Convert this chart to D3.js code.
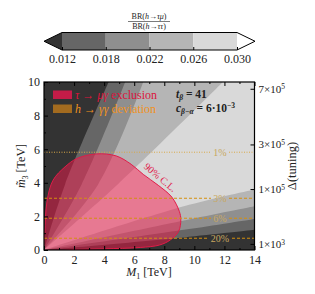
<!DOCTYPE html>
<html>
<head>
<script src="https://d3js.org/d3.v7.min.js"></script>
<style>
  body { margin: 0; background: #fff; }
  svg text { font-family: "Liberation Serif", "DejaVu Serif", serif; fill: #222; }
</style>
</head>
<body>
<svg width="315" height="294"></svg>
<script>
// BR(h->tau mu)/BR(h->tau tau) levels and colours (colorbar)
var levelTicks = ["0.012", "0.018", "0.022", "0.026", "0.030"];
var levelColors = ["#333333", "#666666", "#8f8f8f", "#b5b5b5", "#d9d9d9", "#ffffff"];

// contour edges, points are [M1, m3] in TeV
// upper edges (going up to the top border), one per level 0.012 .. 0.026
var upperEdges = [
  [[0, 0], [1.4, 3.9], [4.3, 10]],
  [[0, 0], [2.5, 3.9], [5.4, 10]],
  [[0, 0], [3.6, 3.9], [6.6, 10]],
  [[0, 0], [4.9, 3.9], [11.9, 10]]
];
// lower edges (going to the right border)
var lowerEdges = [
  [[0, 0], [9.3, 0.75], [14, 1.2]],
  [[0, 0], [9.3, 1.2], [14, 1.85]],
  [[0, 0], [9.3, 1.75], [14, 2.6]],
  [[0, 0], [9.3, 2.6], [14, 3.6]]
];

// tau -> mu gamma 90% CL exclusion contour
var tauMuGamma = [
  [0, 0], [0.05, 1], [0.2, 2.9], [0.6, 4.15], [1.4, 4.95], [2.2, 5.45],
  [3.5, 5.72], [4.8, 5.6], [5.8, 5.1], [6.6, 4.5], [7.6, 3.85], [8.5, 3.15],
  [9.0, 2.3], [9.1, 1.8], [8.95, 1.1], [8.4, 0.6], [7.7, 0.3], [6.4, 0.15],
  [4, 0.07], [2, 0.03]
];

// h -> gamma gamma deviation lines
var deviationLabels = ["1%", "3%", "6%", "20%"];
var deviationM3 = [5.82, 3.08, 1.89, 0.70];

// right axis: tuning
var tuningTicks = [1e3, 1e5, 3e5, 7e5];
var tuningMax = 7.6e5;

var svg = d3.select("svg");

var x = d3.scaleLinear().domain([0, 14]).range([44, 254.5]);
var y = d3.scaleLinear().domain([0, 10]).range([250, 82]);
var yR = d3.scaleSqrt().domain([0, tuningMax]).range([250, 82]);

svg.append("clipPath").attr("id", "plot")
  .append("rect").attr("x", 44).attr("y", 82).attr("width", 210.5).attr("height", 168);

var plot = svg.append("g").attr("clip-path", "url(#plot)");

// background level
plot.append("rect")
  .attr("x", 44).attr("y", 82).attr("width", 210.5).attr("height", 168)
  .attr("fill", levelColors[0]);

var edge = d3.line()
  .x(function(d) { return x(d[0]); })
  .y(function(d) { return y(d[1]); })
  .curve(d3.curveCatmullRom.alpha(0.5));

upperEdges.forEach(function(up, i) {
  var low = lowerEdges[i];
  var right = low[low.length - 1];
  var p = edge(up)
    + "L" + x(14) + "," + y(10)
    + "L" + x(right[0]) + "," + y(right[1])
    + edge(low.slice().reverse()).replace(/^M/, "L") + "Z";
  plot.append("path").attr("d", p).attr("fill", levelColors[i + 1]);
});

// exclusion region
plot.append("path")
  .attr("d", d3.line()
    .x(function(d) { return x(d[0]); })
    .y(function(d) { return y(d[1]); })
    .curve(d3.curveCatmullRomClosed.alpha(0.5))(tauMuGamma))
  .attr("fill", "rgb(245,25,75)")
  .attr("fill-opacity", 0.5)
  .attr("stroke", "#e01c48")
  .attr("stroke-width", 1);

// deviation lines with labels
var labelX = 220;
deviationM3.forEach(function(v, i) {
  var half = deviationLabels[i].length * 3 + 3;
  [[x(0), labelX - half], [labelX + half, x(14)]].forEach(function(seg) {
    plot.append("line")
      .attr("x1", seg[0]).attr("x2", seg[1])
      .attr("y1", y(v)).attr("y2", y(v))
      .attr("stroke", i === 0 ? "#d8a848" : "#d4900f")
      .attr("stroke-width", 1)
      .attr("stroke-dasharray", i === 0 ? "1,1.5" : "3,2");
  });
  plot.append("text")
    .attr("x", labelX).attr("y", y(v) + 3.5)
    .attr("text-anchor", "middle")
    .style("font-size", "10px")
    .style("fill", "#c8a860")
    .text(deviationLabels[i]);
});

// 90% CL label
svg.append("text")
  .attr("transform", "translate(158,180) rotate(40)")
  .attr("text-anchor", "middle")
  .style("font-size", "10px")
  .style("fill", "#e0204a")
  .text("90% C.L.");

// legend
var legend = [
  {label: [["τ", true], [" → ", false], ["μγ", true], [" exclusion", false]], sw: "#c41c48", col: "#dc143c"},
  {label: [["h", true], [" → ", false], ["γγ", true], [" deviation", false]], sw: "#a36b1f", col: "#f0921e"}
];
legend.forEach(function(l, i) {
  var yy = 90.5 + i * 14;
  svg.append("rect").attr("x", 53).attr("y", yy).attr("width", 19).attr("height", 8.5)
    .attr("fill", l.sw);
  var t = svg.append("text").attr("x", 75).attr("y", yy + 8)
    .style("font-size", "12px").style("fill", l.col);
  l.label.forEach(function(s) {
    t.append("tspan").style("font-style", s[1] ? "italic" : "normal").style("fill", l.col).text(s[0]);
  });
});

// parameter annotation
var a1 = svg.append("text").attr("x", 176).attr("y", 98)
  .style("font-size", "11.5px").style("font-weight", "bold");
a1.append("tspan").style("font-style", "italic").text("t");
a1.append("tspan").attr("dy", 2).style("font-size", "7.5px").style("font-style", "italic").text("β");
a1.append("tspan").attr("dy", -2).text(" = 41");

var a2 = svg.append("text").attr("x", 176).attr("y", 112)
  .style("font-size", "11.5px").style("font-weight", "bold");
a2.append("tspan").style("font-style", "italic").text("c");
a2.append("tspan").attr("dy", 2).style("font-size", "7.5px").style("font-style", "italic").text("β−α");
a2.append("tspan").attr("dy", -2).text(" = 6·10");
a2.append("tspan").attr("dy", -4).style("font-size", "7.5px").text("−3");

// axes
function styleAxis(g) {
  g.select(".domain").remove();
  g.selectAll(".tick line").attr("stroke", "#000");
  g.selectAll(".tick text").style("font-size", "12px").style("fill", "#222");
}

svg.append("g").attr("transform", "translate(0,250)")
  .call(d3.axisBottom(x).tickValues(d3.range(0, 15, 2)).tickSizeInner(-4).tickSizeOuter(0)
    .tickPadding(5).tickFormat(d3.format("d")))
  .call(styleAxis);
svg.append("g").attr("transform", "translate(0,250)")
  .call(d3.axisBottom(x).tickValues(d3.range(1, 14, 2)).tickSizeInner(-2).tickSizeOuter(0).tickFormat(""))
  .call(styleAxis);
svg.append("g").attr("transform", "translate(0,82)")
  .call(d3.axisTop(x).tickValues(d3.range(0, 15, 2)).tickSizeInner(-4).tickSizeOuter(0).tickFormat(""))
  .call(styleAxis);
svg.append("g").attr("transform", "translate(0,82)")
  .call(d3.axisTop(x).tickValues(d3.range(1, 14, 2)).tickSizeInner(-2).tickSizeOuter(0).tickFormat(""))
  .call(styleAxis);

svg.append("g").attr("transform", "translate(44,0)")
  .call(d3.axisLeft(y).tickValues(d3.range(0, 11, 2)).tickSizeInner(-4).tickSizeOuter(0)
    .tickPadding(4).tickFormat(d3.format("d")))
  .call(styleAxis);
svg.append("g").attr("transform", "translate(44,0)")
  .call(d3.axisLeft(y).tickValues(d3.range(1, 10, 2)).tickSizeInner(-2).tickSizeOuter(0).tickFormat(""))
  .call(styleAxis);

var gR = svg.append("g").attr("transform", "translate(254.5,0)")
  .call(d3.axisRight(yR).tickValues(tuningTicks).tickSizeInner(-4).tickSizeOuter(0).tickPadding(4))
  .call(styleAxis);
gR.selectAll(".tick text").style("font-size", "11px").each(function(d) {
  var e = Math.floor(Math.log10(d)), m = Math.round(d / Math.pow(10, e));
  var t = d3.select(this).text("");
  t.append("tspan").text(m + "×10");
  t.append("tspan").attr("dy", "-0.45em").style("font-size", "7.5px").text(e);
});

// frame
svg.append("rect").attr("x", 44).attr("y", 82).attr("width", 210.5).attr("height", 168)
  .attr("fill", "none").attr("stroke", "#000").attr("stroke-width", 1.2);

// axis titles
var xt = svg.append("text").attr("x", 149).attr("y", 276).attr("text-anchor", "middle")
  .style("font-size", "12px");
xt.append("tspan").style("font-style", "italic").text("M");
xt.append("tspan").attr("dy", 3).style("font-size", "8px").text("1");
xt.append("tspan").attr("dy", -3).text(" [TeV]");

var yt = svg.append("text").attr("transform", "translate(25,166) rotate(-90)")
  .attr("text-anchor", "middle").style("font-size", "12px");
yt.append("tspan").style("font-style", "italic").text("m\u0303");
yt.append("tspan").attr("dy", 3).style("font-size", "8px").text("3");
yt.append("tspan").attr("dy", -3).text(" [TeV]");

svg.append("text").attr("transform", "translate(296,166) rotate(-90)")
  .attr("text-anchor", "middle").style("font-size", "12.5px").text("Δ(tuning)");

// colorbar
var cb = d3.scalePoint().domain(levelTicks).range([62, 237]);
var cbTop = 32.5, cbBot = 50, cbMid = (cbTop + cbBot) / 2;
var step = cb.step();
levelTicks.slice(0, -1).forEach(function(t, i) {
  svg.append("rect").attr("x", cb(t)).attr("y", cbTop).attr("width", step).attr("height", cbBot - cbTop)
    .attr("fill", levelColors[i + 1]);
});
svg.append("path")
  .attr("d", "M" + cb(levelTicks[0]) + "," + cbTop + "L" + (cb(levelTicks[0]) - 18) + "," + cbMid +
    "L" + cb(levelTicks[0]) + "," + cbBot + "Z")
  .attr("fill", levelColors[0]);
svg.append("path")
  .attr("d", "M" + cb(levelTicks[0]) + "," + cbTop +
    "L" + cb(levelTicks[4]) + "," + cbTop + "L" + (cb(levelTicks[4]) + 18) + "," + cbMid +
    "L" + cb(levelTicks[4]) + "," + cbBot + "L" + cb(levelTicks[0]) + "," + cbBot +
    "L" + (cb(levelTicks[0]) - 18) + "," + cbMid + "Z")
  .attr("fill", "none").attr("stroke", "#000").attr("stroke-width", 1);

svg.append("g").attr("transform", "translate(0," + cbBot + ")")
  .call(d3.axisBottom(cb).tickSizeInner(-3).tickSizeOuter(0).tickPadding(4))
  .call(styleAxis);

// colorbar title (fraction)
svg.append("text").attr("x", 149).attr("y", 19).attr("text-anchor", "middle")
  .style("font-size", "8px").html("BR(<tspan font-style='italic'>h</tspan>→<tspan font-style='italic'>τμ</tspan>)");
svg.append("line").attr("x1", 128).attr("x2", 170).attr("y1", 21.5).attr("y2", 21.5)
  .attr("stroke", "#222").attr("stroke-width", 0.6);
svg.append("text").attr("x", 149).attr("y", 28.5).attr("text-anchor", "middle")
  .style("font-size", "8px").html("BR(<tspan font-style='italic'>h</tspan>→<tspan font-style='italic'>ττ</tspan>)");
</script>
</body>
</html>
